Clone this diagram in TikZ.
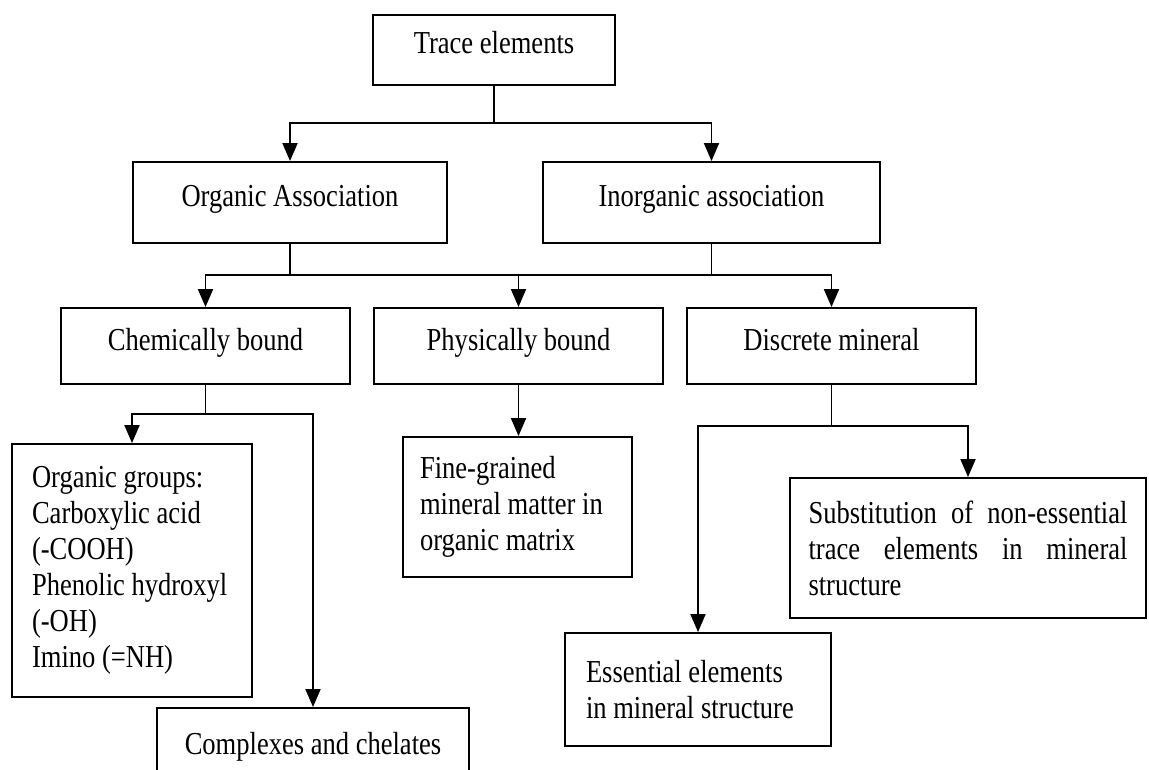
\documentclass[tikz,border=0pt]{standalone}
\usepackage{fontspec}
\setmainfont{Liberation Serif}[FakeStretch=0.83]
\usetikzlibrary{arrows.meta}

\begin{document}
\begin{tikzpicture}[x=0.02cm, y=-0.02cm]
        \def\boxfont{\fontsize{18.2}{20.5}\selectfont}
        \tikzstyle{box}=[draw=black, line width=1.1pt, inner sep=0pt, font=\boxfont]
        \tikzstyle{single}=[box, text height=0.44cm, text depth=0.28cm]
        \tikzstyle{multi}=[box, align=flush left]
        \tikzstyle{stem}=[line width=1.1pt]
        \tikzstyle{link}=[line width=1.1pt, -{Triangle[length=0.36cm, width=0.3cm]}]

        \clip (0,0) rectangle (1149,770);

        \node[single, minimum width=4.84cm, minimum height=1.4cm] (trace) at (494,50) {Trace elements};

        \node[single, minimum width=6.28cm, minimum height=1.62cm] (organic) at (290,202.5) {Organic Association};
        \node[single, minimum width=6.74cm, minimum height=1.62cm] (inorganic) at (711.5,202.5) {Inorganic association};

        \node[single, minimum width=5.78cm, minimum height=1.52cm] (chem) at (205.5,346) {Chemically bound};
        \node[single, minimum width=5.78cm, minimum height=1.52cm] (phys) at (518.5,346) {Physically bound};
        \node[single, minimum width=5.78cm, minimum height=1.52cm] (discrete) at (831.5,346) {Discrete mineral};

        \node[multi, text width=4.0cm, inner xsep=0.4cm, minimum width=4.8cm, minimum height=5.06cm] (groups) at (132,570.5)
            {Organic groups:\\Carboxylic acid\\(-COOH)\\Phenolic hydroxyl\\(-OH)\\Imino (=NH)};
        \node[single, minimum width=6.24cm, minimum height=1.68cm] (complexes) at (313,750) {Complexes and chelates};
        \node[multi, text width=3.9cm, inner xsep=0.34cm, minimum width=4.58cm, minimum height=2.8cm] (fine) at (517.5,507)
            {Fine-grained\\mineral matter in\\organic matrix};
        \node[box, align=justify, text width=6.38cm, inner xsep=0.37cm, minimum width=7.12cm, minimum height=2.8cm] (subst) at (968,548)
            {Substitution of non-essential trace elements in mineral structure};
        \node[multi, text width=4.48cm, inner xsep=0.42cm, minimum width=5.32cm, minimum height=2.26cm] (essential) at (698,689.5)
            {Essential elements\\in mineral structure};

        \coordinate (split1) at (494,123);
        \coordinate (split2) at (290,275);
        \coordinate (split3) at (711.5,275);
        \coordinate (split4) at (205.5,414);
        \coordinate (split5) at (831.5,426);

        \draw[stem] (trace.south) -- (split1);
        \foreach \target in {organic, inorganic}
            \draw[link] (split1) -| (\target.north);

        \draw[stem] (organic.south) -- (split2);
        \draw[stem] (inorganic.south) -- (split3);
        \draw[stem] (split2) -- (split3);
        \foreach \target in {chem, phys}
            \draw[link] (split2) -| (\target.north);
        \draw[link] (split3) -| (discrete.north);

        \draw[stem] (chem.south) -- (split4);
        \foreach \target in {groups, complexes}
            \draw[link] (split4) -| (\target.north);

        \draw[link] (phys.south) -- (phys.south |- fine.north);

        \draw[stem] (discrete.south) -- (split5);
        \foreach \target in {essential, subst}
            \draw[link] (split5) -| (\target.north);
\end{tikzpicture}
\end{document}
